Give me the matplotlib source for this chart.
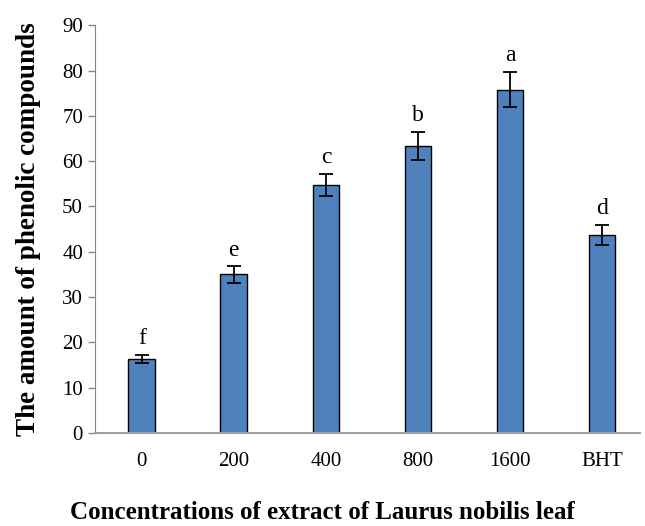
import numpy as np
import matplotlib.pyplot as plt

# dados
categorias = ['0', '200', '400', '800', '1600', 'BHT']
valores = [16.4, 35.0, 54.7, 63.4, 75.8, 43.7]
erros = [0.9, 1.8, 2.5, 3.1, 3.9, 2.3]
letras = ['f', 'e', 'c', 'b', 'a', 'd']

plt.rcParams['font.family'] = ['Liberation Serif', 'DejaVu Serif']

fig = plt.figure(figsize=(6.45, 5.26), dpi=100)
ax = fig.add_axes([0.147, 0.177, 0.845, 0.775])

x = np.arange(len(categorias))
ax.bar(x, valores, width=0.29, color='#4F81BD', edgecolor='black', linewidth=1.0,
       yerr=erros, capsize=5, error_kw={'elinewidth': 1.3, 'capthick': 1.3, 'ecolor': 'black'})

for i in range(len(x)):
    ax.text(x[i], valores[i] + erros[i] + 1.2, letras[i], ha='center', va='bottom', fontsize=17)

ax.set_xlim(-0.51, 5.41)
ax.set_ylim(0, 90)
ax.set_yticks(np.arange(0, 91, 10))
ax.set_xticks(x)
ax.set_xticklabels(categorias)
ax.tick_params(axis='y', labelsize=15, color='#868686', length=5, width=1)
ax.tick_params(axis='x', labelsize=15, length=0, pad=14)
ax.spines['top'].set_visible(False)
ax.spines['right'].set_visible(False)
ax.spines['left'].set_color('#868686')
ax.spines['bottom'].set_color('#a0a0a0')
ax.spines['bottom'].set_linewidth(1.5)

ax.set_ylabel('The amount of phenolic compounds', fontsize=19.5, fontweight='bold', labelpad=15)
# titulo do eixo x centrado na figura, como no original
fig.text(0.5, 0.004, 'Concentrations of extract of Laurus nobilis leaf', ha='center', va='bottom',
         fontsize=18, fontweight='bold')

plt.savefig('out.png', dpi=100)
